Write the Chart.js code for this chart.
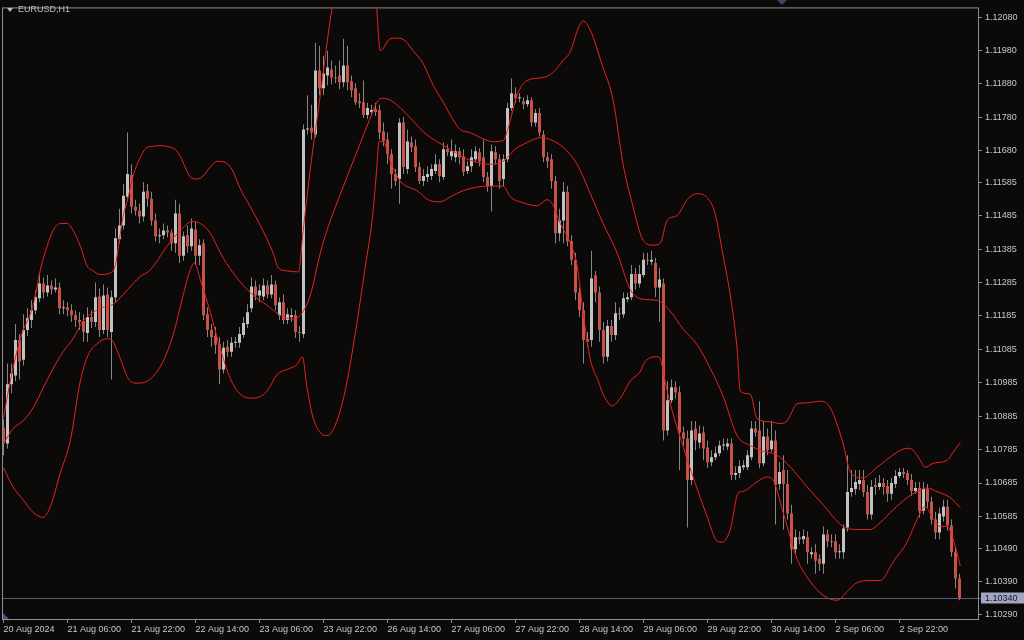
<!DOCTYPE html>
<html>
<head>
<meta charset="utf-8">
<title>EURUSD,H1</title>
<script src="https://cdn.jsdelivr.net/npm/chart.js@4.4.1/dist/chart.umd.min.js"></script>
<style>
  html, body { margin: 0; padding: 0; background: #0c0a09; }
  #wrap { width: 1024px; height: 640px; }
</style>
</head>
<body>
<div id="wrap"><canvas id="chart" width="1024" height="640"></canvas></div>
<script>
// EURUSD H1 candles, bar 0 = 20 Aug 14:00
const opens = [
  1.10851,1.10803,1.10981,1.11007,1.11113,1.11054,1.11143,1.11173,1.11202,1.11238,
  1.11282,1.11255,1.11276,1.11264,1.11270,1.11208,1.11211,1.11202,1.11187,1.11173,
  1.11170,1.11134,1.11182,1.11167,1.11243,1.11143,1.11249,1.11137,1.11241,1.11415,
  1.11456,1.11542,1.11607,1.11512,1.11500,1.11483,1.11560,1.11536,1.11471,1.11424,
  1.11427,1.11441,1.11435,1.11403,1.11492,1.11365,1.11427,1.11394,1.11444,1.11365,
  1.11403,1.11190,1.11143,1.11125,1.11102,1.11025,1.11093,1.11078,1.11105,1.11105,
  1.11128,1.11161,1.11208,1.11273,1.11246,1.11243,1.11276,1.11249,1.11279,1.11187,
  1.11226,1.11173,1.11182,1.11187,1.11137,1.11131,1.11743,1.11749,1.11728,1.11920,
  1.11867,1.11905,1.11923,1.11899,1.11905,1.11885,1.11935,1.11888,1.11867,1.11828,
  1.11825,1.11787,1.11796,1.11805,1.11802,1.11737,1.11713,1.11669,1.11610,1.11595,
  1.11764,1.11625,1.11704,1.11693,1.11631,1.11589,1.11601,1.11604,1.11619,1.11639,
  1.11601,1.11684,1.11663,1.11660,1.11678,1.11663,1.11619,1.11633,1.11654,1.11675,
  1.11660,1.11601,1.11574,1.11675,1.11654,1.11595,1.11654,1.11808,1.11849,1.11837,
  1.11828,1.11819,1.11831,1.11764,1.11793,1.11728,1.11660,1.11654,1.11589,1.11433,
  1.11471,1.11557,1.11409,1.11353,1.11255,1.11202,1.11116,1.11113,1.11306,1.11255,
  1.11143,1.11063,1.11155,1.11128,1.11193,1.11190,1.11235,1.11241,1.11311,1.11282,
  1.11308,1.11353,1.11347,1.11344,1.11270,1.11282,1.10842,1.10933,1.10972,1.10957,
  1.10836,1.10818,1.10694,1.10848,1.10806,1.10836,1.10791,1.10747,1.10762,1.10774,
  1.10797,1.10794,1.10803,1.10709,1.10715,1.10732,1.10732,1.10762,1.10848,1.10842,
  1.10744,1.10824,1.10786,1.10812,1.10682,1.10724,1.10682,1.10594,1.10487,1.10523,
  1.10517,1.10523,1.10472,1.10478,1.10458,1.10443,1.10531,1.10511,1.10511,1.10478,
  1.10478,1.10552,1.10658,1.10667,1.10682,1.10694,1.10658,1.10591,1.10679,1.10673,
  1.10685,1.10676,1.10653,1.10682,1.10706,1.10718,1.10715,1.10694,1.10661,1.10670,
  1.10602,1.10667,1.10629,1.10576,1.10537,1.10585,1.10614,1.10558,1.10478,1.10399
]
const highs = [
  1.10877,1.11043,1.11043,1.11161,1.11131,1.11190,1.11208,1.11232,1.11261,1.11314,
  1.11300,1.11308,1.11291,1.11297,1.11285,1.11232,1.11226,1.11220,1.11202,1.11196,
  1.11190,1.11211,1.11202,1.11285,1.11267,1.11279,1.11270,1.11261,1.11447,1.11506,
  1.11580,1.11734,1.11639,1.11533,1.11521,1.11586,1.11580,1.11557,1.11492,1.11447,
  1.11462,1.11456,1.11444,1.11533,1.11521,1.11438,1.11456,1.11477,1.11468,1.11415,
  1.11415,1.11211,1.11161,1.11152,1.11122,1.11108,1.11113,1.11122,1.11122,1.11152,
  1.11182,1.11220,1.11300,1.11291,1.11279,1.11297,1.11291,1.11308,1.11291,1.11241,
  1.11249,1.11208,1.11208,1.11202,1.11155,1.11758,1.11846,1.11817,1.12003,1.11994,
  1.11964,1.11979,1.11950,1.11935,1.11950,1.12015,1.11994,1.11905,1.11882,1.11852,
  1.11890,1.11823,1.11817,1.11823,1.11817,1.11764,1.11734,1.11684,1.11625,1.11778,
  1.11781,1.11743,1.11722,1.11713,1.11645,1.11625,1.11633,1.11639,1.11669,1.11654,
  1.11704,1.11698,1.11713,1.11698,1.11690,1.11684,1.11648,1.11684,1.11693,1.11687,
  1.11713,1.11616,1.11698,1.11693,1.11669,1.11669,1.11823,1.11896,1.11870,1.11852,
  1.11840,1.11846,1.11840,1.11805,1.11808,1.11740,1.11675,1.11669,1.11604,1.11506,
  1.11586,1.11574,1.11427,1.11374,1.11270,1.11226,1.11137,1.11380,1.11320,1.11273,
  1.11167,1.11173,1.11173,1.11226,1.11211,1.11255,1.11255,1.11338,1.11329,1.11338,
  1.11374,1.11374,1.11380,1.11359,1.11329,1.11297,1.10990,1.10995,1.10990,1.10975,
  1.10854,1.10842,1.10871,1.10871,1.10857,1.10854,1.10812,1.10783,1.10794,1.10812,
  1.10818,1.10818,1.10818,1.10735,1.10753,1.10753,1.10783,1.10871,1.10871,1.10930,
  1.10871,1.10848,1.10871,1.10842,1.10747,1.10768,1.10724,1.10620,1.10546,1.10540,
  1.10546,1.10540,1.10493,1.10502,1.10472,1.10555,1.10546,1.10531,1.10531,1.10502,
  1.10561,1.10768,1.10724,1.10724,1.10724,1.10724,1.10679,1.10694,1.10700,1.10709,
  1.10700,1.10694,1.10700,1.10724,1.10730,1.10730,1.10724,1.10712,1.10688,1.10688,
  1.10688,1.10682,1.10644,1.10599,1.10611,1.10635,1.10635,1.10576,1.10493,1.10413
]
const lows = [
  1.10768,1.10788,1.10954,1.10990,1.10995,1.11037,1.11125,1.11149,1.11190,1.11226,
  1.11238,1.11243,1.11249,1.11255,1.11190,1.11190,1.11184,1.11167,1.11152,1.11143,
  1.11108,1.11108,1.11149,1.11152,1.11122,1.11131,1.11122,1.10995,1.11226,1.11403,
  1.11444,1.11530,1.11492,1.11486,1.11462,1.11468,1.11512,1.11456,1.11409,1.11403,
  1.11415,1.11421,1.11380,1.11374,1.11344,1.11350,1.11374,1.11380,1.11338,1.11338,
  1.11173,1.11122,1.11093,1.11072,1.10981,1.11013,1.11063,1.11063,1.11090,1.11090,
  1.11119,1.11149,1.11196,1.11232,1.11226,1.11232,1.11238,1.11238,1.11202,1.11173,
  1.11161,1.11161,1.11167,1.11119,1.11108,1.11119,1.11728,1.11713,1.11719,1.11846,
  1.11846,1.11876,1.11879,1.11882,1.11864,1.11870,1.11861,1.11840,1.11817,1.11808,
  1.11778,1.11775,1.11787,1.11784,1.11713,1.11693,1.11639,1.11566,1.11574,1.11521,
  1.11610,1.11610,1.11675,1.11616,1.11580,1.11574,1.11586,1.11592,1.11610,1.11586,
  1.11592,1.11663,1.11651,1.11645,1.11639,1.11604,1.11610,1.11616,1.11645,1.11633,
  1.11586,1.11557,1.11498,1.11639,1.11566,1.11574,1.11645,1.11799,1.11823,1.11825,
  1.11805,1.11811,1.11752,1.11752,1.11722,1.11645,1.11627,1.11566,1.11403,1.11409,
  1.11403,1.11394,1.11338,1.11232,1.11182,1.11043,1.11093,1.11093,1.11226,1.11108,
  1.11043,1.11049,1.11108,1.11113,1.11173,1.11179,1.11226,1.11232,1.11264,1.11270,
  1.11300,1.11338,1.11338,1.11241,1.11167,1.10812,1.10827,1.10924,1.10937,1.10724,
  1.10797,1.10552,1.10679,1.10783,1.10788,1.10753,1.10730,1.10735,1.10753,1.10765,
  1.10783,1.10783,1.10694,1.10694,1.10700,1.10724,1.10724,1.10753,1.10824,1.10729,
  1.10735,1.10768,1.10777,1.10561,1.10664,1.10546,1.10576,1.10443,1.10472,1.10502,
  1.10502,1.10443,1.10458,1.10413,1.10422,1.10413,1.10493,1.10493,1.10458,1.10458,
  1.10458,1.10540,1.10644,1.10650,1.10664,1.10644,1.10576,1.10576,1.10650,1.10664,
  1.10650,1.10629,1.10635,1.10670,1.10700,1.10700,1.10679,1.10647,1.10653,1.10582,
  1.10591,1.10611,1.10561,1.10517,1.10517,1.10570,1.10543,1.10464,1.10369,1.10334
]
const closes = [
  1.10803,1.10981,1.11013,1.11113,1.11049,1.11143,1.11179,1.11202,1.11241,1.11282,
  1.11255,1.11276,1.11264,1.11270,1.11208,1.11211,1.11202,1.11187,1.11173,1.11167,
  1.11137,1.11182,1.11167,1.11241,1.11143,1.11246,1.11143,1.11241,1.11418,1.11456,
  1.11545,1.11610,1.11512,1.11500,1.11483,1.11557,1.11536,1.11471,1.11424,1.11427,
  1.11441,1.11435,1.11403,1.11492,1.11365,1.11424,1.11394,1.11447,1.11365,1.11397,
  1.11187,1.11143,1.11122,1.11099,1.11025,1.11090,1.11078,1.11105,1.11108,1.11131,
  1.11164,1.11196,1.11273,1.11246,1.11261,1.11276,1.11249,1.11279,1.11217,1.11226,
  1.11173,1.11190,1.11187,1.11137,1.11134,1.11743,1.11746,1.11734,1.11920,1.11867,
  1.11911,1.11929,1.11899,1.11896,1.11885,1.11935,1.11885,1.11861,1.11825,1.11822,
  1.11787,1.11808,1.11802,1.11796,1.11734,1.11708,1.11669,1.11610,1.11589,1.11764,
  1.11631,1.11707,1.11690,1.11631,1.11589,1.11604,1.11610,1.11625,1.11639,1.11604,
  1.11684,1.11675,1.11678,1.11678,1.11660,1.11616,1.11633,1.11660,1.11678,1.11648,
  1.11601,1.11574,1.11678,1.11654,1.11589,1.11654,1.11808,1.11852,1.11837,1.11840,
  1.11819,1.11831,1.11764,1.11793,1.11734,1.11660,1.11648,1.11589,1.11433,1.11471,
  1.11557,1.11409,1.11353,1.11255,1.11202,1.11113,1.11108,1.11297,1.11255,1.11143,
  1.11063,1.11155,1.11128,1.11193,1.11190,1.11238,1.11241,1.11311,1.11282,1.11311,
  1.11353,1.11350,1.11353,1.11270,1.11294,1.10842,1.10933,1.10972,1.10957,1.10836,
  1.10818,1.10694,1.10842,1.10812,1.10833,1.10788,1.10747,1.10762,1.10774,1.10797,
  1.10800,1.10803,1.10709,1.10715,1.10735,1.10738,1.10768,1.10848,1.10836,1.10744,
  1.10824,1.10783,1.10812,1.10679,1.10718,1.10682,1.10594,1.10487,1.10523,1.10517,
  1.10526,1.10478,1.10478,1.10452,1.10443,1.10531,1.10511,1.10508,1.10478,1.10481,
  1.10549,1.10658,1.10670,1.10688,1.10694,1.10658,1.10591,1.10673,1.10673,1.10685,
  1.10673,1.10653,1.10685,1.10706,1.10718,1.10712,1.10694,1.10661,1.10670,1.10602,
  1.10667,1.10629,1.10576,1.10537,1.10594,1.10614,1.10558,1.10478,1.10399,1.10340
]

// Bollinger bands at these bar positions
const upperAt = [0,1.7,4.2,7.4,9.2,10.9,12.4,14.2,15.9,17.4,19.2,20.9,22.4,24.2,26.7,27.9,29.9,31.2,32.4,34.2,35.9,37.4,39.2,41.7,42.9,44.2,45.4,46.7,48.4,49.9,51.7,53.4,55.4,57.2,59.2,61.7,64.2,67.4,68.7,70.9,73.7,74.9,76.7,79.2,82.2,85.4,89.2,92.5,93.3,94.2,96.7,98.4,100.4,102.4,104.9,107.4,109.9,112.4,114.2,116.7,119.2,122.4,124.9,126.2,128.4,130.9,134.9,137.4,139.9,141.7,143.7,144.9,146.7,149.7,152.4,154.9,157.2,159.9,162.4,164.2,165.9,168.4,170.9,173.4,175.9,177.9,179.9,181.7,183.4,184.2,186.7,188.4,191.7,194.2,195.9,198.4,200.9,204.2,206.7,209.9,211.7,214.7,218.4,223.4,225.9,227.4,229.2,230.4,232.4,235.9,237.4,239.2]
const upperBand = [1.10880,1.10990,1.11117,1.11217,1.11323,1.11394,1.11441,1.11462,1.11462,1.11441,1.11394,1.11335,1.11320,1.11309,1.11314,1.11335,1.11483,1.11542,1.11604,1.11660,1.11690,1.11693,1.11695,1.11690,1.11684,1.11663,1.11631,1.11601,1.11595,1.11604,1.11631,1.11648,1.11645,1.11622,1.11566,1.11512,1.11456,1.11374,1.11329,1.11320,1.11317,1.11439,1.11625,1.11846,1.12112,1.12289,1.12348,1.12300,1.12112,1.11979,1.12015,1.12017,1.12009,1.11979,1.11941,1.11876,1.11826,1.11772,1.11743,1.11734,1.11719,1.11707,1.11710,1.11749,1.11846,1.11890,1.11899,1.11914,1.11950,1.11976,1.12047,1.12068,1.12041,1.11935,1.11831,1.11639,1.11521,1.11412,1.11397,1.11403,1.11471,1.11486,1.11533,1.11551,1.11539,1.11492,1.11365,1.11247,1.11087,1.10960,1.10951,1.10877,1.10868,1.10863,1.10871,1.10922,1.10925,1.10930,1.10910,1.10803,1.10718,1.10700,1.10732,1.10777,1.10789,1.10783,1.10753,1.10732,1.10744,1.10753,1.10777,1.10806]

const middleAt = [0,2.4,4.9,7.4,9.9,12.4,14.9,17.4,19.9,22.4,24.9,27.4,29.9,32.4,34.2,36.7,40.9,44.2,47.2,49.2,51.7,54.2,57.4,62.4,65.9,69.2,72.4,74.2,76.7,79.2,81.2,84.9,88.4,91.7,93.4,94.7,96.7,99.2,101.7,104.9,108.4,111.7,114.9,118.4,121.7,124.9,127.9,130.9,134.2,136.7,139.9,143.4,146.7,149.9,153.4,156.7,159.9,163.4,166.7,169.9,173.4,176.7,179.9,183.4,186.7,189.2,193.4,196.7,200.9,204.9,209.9,213.4,216.7,219.2,222.4,225.9,229.2,230.9,233.4,236.7,239.2]
const middleBand = [1.10803,1.10848,1.10871,1.10910,1.10969,1.11028,1.11078,1.11117,1.11170,1.11196,1.11211,1.11220,1.11249,1.11282,1.11303,1.11323,1.11394,1.11441,1.11468,1.11462,1.11433,1.11374,1.11314,1.11247,1.11217,1.11187,1.11176,1.11187,1.11247,1.11374,1.11453,1.11571,1.11678,1.11778,1.11826,1.11837,1.11831,1.11808,1.11778,1.11737,1.11707,1.11684,1.11660,1.11645,1.11639,1.11648,1.11684,1.11704,1.11719,1.11713,1.11690,1.11639,1.11551,1.11462,1.11374,1.11264,1.11235,1.11232,1.11199,1.11146,1.11099,1.11028,1.10945,1.10827,1.10797,1.10783,1.10768,1.10733,1.10673,1.10620,1.10555,1.10546,1.10546,1.10567,1.10605,1.10641,1.10664,1.10670,1.10659,1.10641,1.10611]

const lowerAt = [0,2.4,4.9,7.4,9.9,11.7,14.2,16.7,19.2,21.2,23.4,25.9,27.4,29.2,31.2,33.4,35.4,37.4,39.9,42.4,44.9,46.7,47.7,49.2,51.7,54.2,56.7,59.2,62.4,65.9,68.4,70.9,73.4,74.7,75.9,77.4,79.2,80.9,82.9,85.4,88.0,90.4,92.2,93.2,93.9,94.9,96.7,99.2,103.4,106.7,109.2,111.7,114.9,118.4,121.7,124.9,126.7,129.9,133.4,135.9,137.2,139.2,141.7,143.4,144.9,146.7,148.7,149.9,152.2,154.2,156.7,159.2,160.4,163.7,164.4,165.4,166.7,169.2,172.4,175.9,178.4,179.7,181.7,183.7,184.7,186.7,188.4,190.9,192.4,194.9,198.4,201.7,204.9,208.4,210.9,213.4,216.7,219.2,222.4,225.9,228.4,230.4,232.4,234.2,235.9,237.4,239.2]
const lowerBand = [1.10730,1.10673,1.10635,1.10597,1.10582,1.10614,1.10715,1.10812,1.10990,1.11069,1.11102,1.11117,1.11108,1.11057,1.10998,1.10984,1.10987,1.11004,1.11049,1.11128,1.11247,1.11323,1.11344,1.11294,1.11196,1.11087,1.10998,1.10951,1.10939,1.10960,1.11010,1.11025,1.11040,1.11063,1.10969,1.10880,1.10836,1.10827,1.10857,1.10960,1.11137,1.11329,1.11477,1.11610,1.11707,1.11707,1.11648,1.11589,1.11560,1.11530,1.11527,1.11542,1.11560,1.11571,1.11574,1.11574,1.11542,1.11524,1.11515,1.11533,1.11521,1.11462,1.11403,1.11335,1.11196,1.11055,1.10990,1.10951,1.10916,1.10939,1.10990,1.11019,1.11049,1.11063,1.11049,1.10990,1.10922,1.10821,1.10703,1.10585,1.10511,1.10508,1.10546,1.10656,1.10659,1.10673,1.10689,1.10703,1.10694,1.10597,1.10458,1.10390,1.10349,1.10334,1.10360,1.10387,1.10393,1.10393,1.10449,1.10508,1.10576,1.10614,1.10579,1.10555,1.10555,1.10517,1.10437]

// axis labels
const priceTicks = [1.12080,1.11980,1.11880,1.11780,1.11680,1.11585,1.11485,1.11385,1.11285,1.11185,1.11085,1.10985,1.10885,1.10785,1.10685,1.10585,1.10490,1.10390,1.10290]
const timeTickAt = [0,16,32,48,64,80,96,112,128,144,160,176,192,208,224]
const timeLabels = ['20 Aug 2024','21 Aug 06:00','21 Aug 22:00','22 Aug 14:00','23 Aug 06:00','23 Aug 22:00','26 Aug 14:00','27 Aug 06:00','27 Aug 22:00','28 Aug 14:00','29 Aug 06:00','29 Aug 22:00','30 Aug 14:00','2 Sep 06:00','2 Sep 22:00']

// colours
const bgColor = '#0c0a09'
const bullColor = '#c2c2c2'
const bearColor = '#c8524a'
const wickColor = '#858585'
const bandColor = 'rgb(232,34,30)'
const textColor = '#c4c6d2'
const frameColor = '#8e8e8e'

const lastPrice = closes[closes.length - 1]

const wicks = opens.map((o, i) => ({ x: i, y: [lows[i], highs[i]] }))
const bodies = opens.map((o, i) => ({ x: i, y: [o, closes[i]] }))
const bodyColors = opens.map((o, i) => closes[i] >= o ? bullColor : bearColor)

function band(at, vals) {
    const n = Math.min(at.length, vals.length)
    const pts = []
    for (let i = 0; i < n; i++) pts.push({ x: at[i], y: vals[i] })
    return pts
}

function lineSet(pts) {
    return {
        type: 'line', data: pts, borderColor: bandColor, borderWidth: 1,
        pointRadius: 0, cubicInterpolationMode: 'monotone', order: 0
    }
}

// frame, bid line, title and little markers
const mt4Look = {
    id: 'mt4Look',
    beforeDraw(chart) {
        const ctx = chart.ctx
        ctx.save()
        ctx.fillStyle = bgColor
        ctx.fillRect(0, 0, chart.width, chart.height)
        ctx.restore()
    },
    afterDraw(chart) {
        const { ctx, chartArea: a } = chart
        const y = chart.scales.y
        ctx.save()
        ctx.lineWidth = 1

        // bid line
        const py = Math.round(y.getPixelForValue(lastPrice)) + 0.5
        ctx.strokeStyle = '#565b78'
        ctx.beginPath()
        ctx.moveTo(a.left, py)
        ctx.lineTo(a.right + 3, py)
        ctx.stroke()

        // frame
        ctx.strokeStyle = frameColor
        ctx.strokeRect(a.left - 0.5, a.top - 0.5, a.right - a.left + 1, a.bottom - a.top + 1)

        // price label box
        ctx.fillStyle = '#a2a6c0'
        ctx.fillRect(a.right + 3, py - 6, 43, 11)
        ctx.fillStyle = '#15151f'
        ctx.font = '9px "Liberation Sans", Arial, sans-serif'
        ctx.textBaseline = 'middle'
        ctx.textAlign = 'left'
        ctx.fillText(lastPrice.toFixed(5), a.right + 7, py)

        // title
        ctx.fillStyle = '#b8bccb'
        ctx.beginPath()
        ctx.moveTo(7, 8)
        ctx.lineTo(13, 8)
        ctx.lineTo(10, 12)
        ctx.closePath()
        ctx.fill()
        ctx.fillText('EURUSD,H1', 18, 10)

        // shift markers
        ctx.fillStyle = '#3c4466'
        ctx.beginPath()
        ctx.moveTo(777, 0)
        ctx.lineTo(787, 0)
        ctx.lineTo(782, 5)
        ctx.closePath()
        ctx.fill()
        ctx.fillStyle = '#4a4f86'
        ctx.beginPath()
        ctx.moveTo(a.left, a.bottom - 6)
        ctx.lineTo(a.left, a.bottom)
        ctx.lineTo(a.left + 6, a.bottom)
        ctx.closePath()
        ctx.fill()
        ctx.restore()
    }
}

Chart.defaults.font.family = '"Liberation Sans", Arial, sans-serif'
Chart.defaults.font.size = 9

new Chart(document.getElementById('chart'), {
    type: 'bar',
    data: {
        datasets: [
            lineSet(band(upperAt, upperBand)),
            lineSet(band(middleAt, middleBand)),
            lineSet(band(lowerAt, lowerBand)),
            {
                type: 'bar', data: bodies, backgroundColor: bodyColors,
                barThickness: 3, maxBarThickness: 3, minBarLength: 1,
                grouped: false, inflateAmount: 0, borderWidth: 0, order: 1
            },
            {
                type: 'bar', data: wicks, backgroundColor: wickColor,
                barThickness: 1, maxBarThickness: 1, minBarLength: 1,
                grouped: false, inflateAmount: 0, borderWidth: 0, order: 2
            }
        ]
    },
    options: {
        responsive: false,
        animation: false,
        devicePixelRatio: 1,
        events: [],
        layout: { padding: { left: 3, top: 3, right: 0, bottom: 0 } },
        plugins: { legend: { display: false }, tooltip: { enabled: false } },
        scales: {
            x: {
                type: 'linear',
                min: -0.125,
                max: 243.625,
                offset: false,
                grid: { drawOnChartArea: false, offset: false, color: frameColor, tickLength: 4 },
                border: { display: false },
                afterBuildTicks: (scale) => { scale.ticks = timeTickAt.map(v => ({ value: v })) },
                afterFit: (scale) => { scale.height = 21 },
                ticks: {
                    autoSkip: false, maxRotation: 0, minRotation: 0, align: 'start',
                    padding: 1, color: textColor,
                    callback: (v) => timeLabels[timeTickAt.indexOf(v)]
                }
            },
            y: {
                type: 'linear',
                position: 'right',
                min: 1.102779,
                max: 1.121058,
                grid: { drawOnChartArea: false, color: frameColor, tickLength: 4 },
                border: { display: false },
                afterBuildTicks: (scale) => { scale.ticks = priceTicks.map(v => ({ value: v })) },
                afterFit: (scale) => { scale.width = 46 },
                ticks: {
                    autoSkip: false, padding: 3, color: textColor,
                    callback: (v) => Number(v).toFixed(5)
                }
            }
        }
    },
    plugins: [mt4Look]
})
</script>
</body>
</html>
